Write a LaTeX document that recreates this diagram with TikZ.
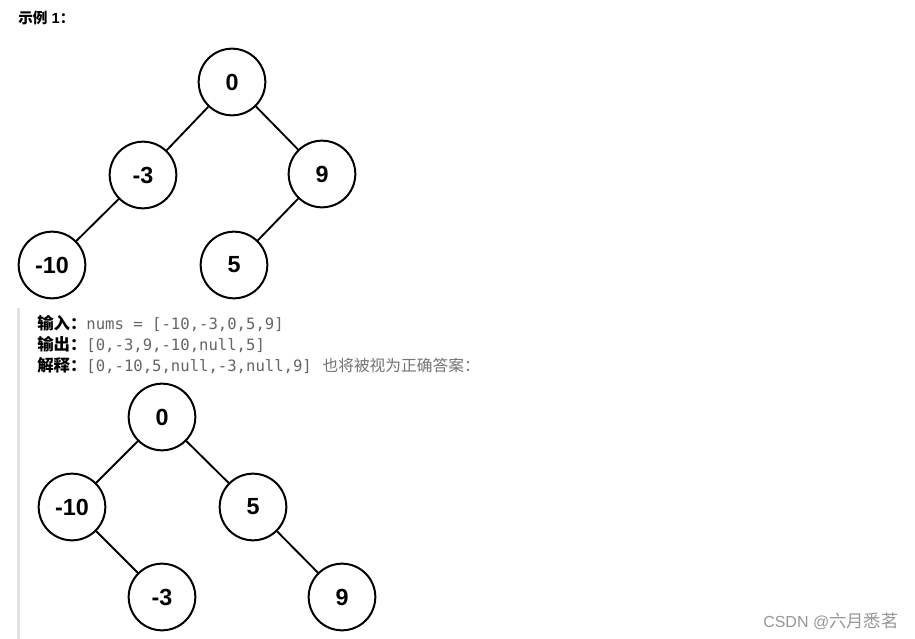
\documentclass[tikz,border=0pt]{standalone}
\usepackage{fontspec}
\setmainfont{Liberation Sans}
\setmonofont{DejaVu Sans Mono}
\newfontfamily\cjk{Noto Sans CJK SC}
\definecolor{codegray}{RGB}{100,100,100}
\definecolor{notegray}{RGB}{115,115,115}
\definecolor{bargray}{RGB}{225,225,225}
\definecolor{markgray}{RGB}{150,150,150}
\usetikzlibrary{positioning}

\begin{document}
\begin{tikzpicture}[
      x=0.75pt, y=-0.75pt,
      tnode/.style={draw, circle, line width=1.5pt, minimum size=50pt, inner sep=0pt, font=\fontsize{17.5}{20}\selectfont\bfseries},
      tedge/.style={line width=1.4pt},
      line/.style={anchor=west, inner sep=0pt, font=\fontsize{12.3}{14}\selectfont},
      code/.style={text=codegray}
    ]
      \useasboundingbox (0,0) rectangle (915,639);
      \fill[bargray] (17,308) rectangle (20,639);

      % title
      \node[line, font=\fontsize{11}{13}\selectfont] (title) at (18,18) {{\cjk\bfseries 示例} \textbf{1}{\cjk\bfseries ：}};

      % first tree
      \node[tnode] (a0) at (232,82) {0};
      \node[tnode] (a3) at (143,175) {-3};
      \node[tnode] (a9) at (322,174) {9};
      \node[tnode] (a10) at (52,265) {-10};
      \node[tnode] (a5) at (234,265) {5};
      \draw[tedge] (a0) -- (a3);
      \draw[tedge] (a0) -- (a9);
      \draw[tedge] (a3) -- (a10);
      \draw[tedge] (a9) -- (a5);

      % input / output / explanation
      \node[line] (inp) at (37,324) {{\cjk\bfseries 输入：}{\ttfamily\fontsize{11.7}{14}\selectfont\color{codegray}nums = [-10,-3,0,5,9]}};
      \node[line] (outp) at (37,345) {{\cjk\bfseries 输出：}{\ttfamily\fontsize{11.7}{14}\selectfont\color{codegray}[0,-3,9,-10,null,5]}};
      \node[line] (expl) at (37,366) {{\cjk\bfseries 解释：}{\ttfamily\fontsize{11.7}{14}\selectfont\color{codegray}[0,-10,5,null,-3,null,9]}\hspace{8pt}{\cjk\fontsize{11.8}{14}\selectfont\color{notegray}也将被视为正确答案：}};

      % second tree
      \node[tnode] (b0) at (162,417) {0};
      \node[tnode] (b10) at (72,507) {-10};
      \node[tnode] (b5) at (253,507) {5};
      \node[tnode] (b3) at (162,597) {-3};
      \node[tnode] (b9) at (342,597) {9};
      \draw[tedge] (b0) -- (b10);
      \draw[tedge] (b0) -- (b5);
      \draw[tedge] (b10) -- (b3);
      \draw[tedge] (b5) -- (b9);

      % watermark
      \node[line, text=markgray, font=\fontsize{12}{14}\selectfont] (mark) at (763,621) {CSDN @{\cjk\fontsize{13}{14}\selectfont 六月悉茗}};
    \end{tikzpicture}
\end{document}
